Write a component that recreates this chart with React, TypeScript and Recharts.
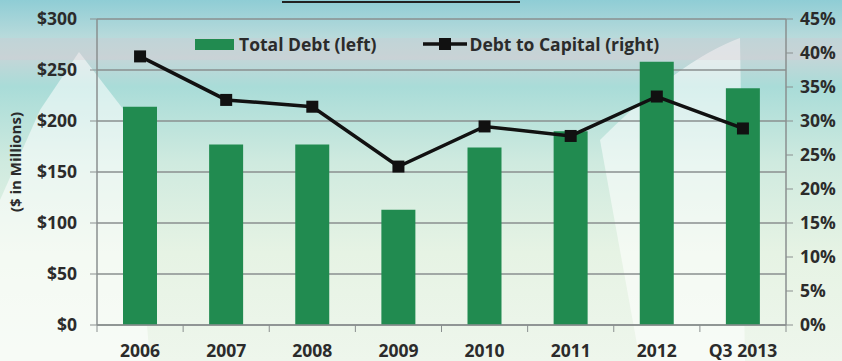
import React from 'react'
import { ComposedChart, Bar, Line, XAxis, YAxis, CartesianGrid } from 'recharts'

const categories = ['2006', '2007', '2008', '2009', '2010', '2011', '2012', 'Q3 2013']
const totalDebt = [214, 177, 177, 113, 174, 190, 258, 232]
const debtToCapital = [39.5, 33.1, 32.1, 23.3, 29.2, 27.8, 33.6, 28.9]
const debtTicks = [0, 50, 100, 150, 200, 250, 300]
const pctTicks = [0, 5, 10, 15, 20, 25, 30, 35, 40, 45]

const data = categories.map((c, i) => ({ year: c, debt: totalDebt[i], ratio: debtToCapital[i] }))

const W = 842
const H = 361
const LEFT_W = 97
const RIGHT_W = 56
const BAND = (W - LEFT_W - RIGHT_W) / categories.length
const FONT = '"Open Sans", "Liberation Sans", sans-serif'
const FS = 17.5
const GREEN = '#218b50'
const GRID = '#8a8f8f'
const TEXT = '#2b2b2b'

function XTick(props: any) {
  const { x, y, payload, index } = props
  return (
    <g>
      <line x1={x - BAND / 2} x2={x - BAND / 2} y1={y} y2={y + 7} stroke={GRID} />
      {index === categories.length - 1 && (
        <line x1={x + BAND / 2} x2={x + BAND / 2} y1={y} y2={y + 7} stroke={GRID} />
      )}
      <text x={x} y={y + 32} textAnchor="middle" fontSize={FS} fontWeight={700} fill={TEXT} fontFamily={FONT}>
        {payload.value}
      </text>
    </g>
  )
}

function SquareDot(props: any) {
  const { cx, cy } = props
  if (cx == null || cy == null) return null
  return <rect x={cx - 6} y={cy - 6} width={12} height={12} fill="#111" />
}

export default function App() {
  return (
    <div style={{ position: 'absolute', left: 0, top: 0, width: W, height: H, overflow: 'hidden',
      background: 'linear-gradient(180deg, #8fcdd5 0%, #b7dadb 10%, #c4d6d8 16%, #a9dcd8 24%, #cfeadf 45%, #e6f3e4 70%, #eef6ec 100%)',
      fontFamily: FONT }}>
      {/* background decoration */}
      <svg width={W} height={H} style={{ position: 'absolute', left: 0, top: 0 }}>
        <polygon points="79,52 130,118 150,361 0,361 0,200 40,110" fill="#ffffff" opacity={0.55} />
        <path d="M600,140 Q680,60 740,38 L745,361 L640,361 Z" fill="#ffffff" opacity={0.55} />
        <rect x={0} y={38} width={W} height={22} fill="#d9c9cf" opacity={0.25} />
      </svg>
      <div style={{ position: 'absolute', left: 282, top: 1, width: 238, borderTop: '2px solid #222' }} />
      <div style={{ position: 'absolute', left: 0, top: 0 }}>
        <ComposedChart width={W} height={H} data={data} margin={{ top: 19, right: 0, left: 0, bottom: 0 }}>
          <CartesianGrid vertical={false} stroke={GRID} strokeWidth={1.5} yAxisId="left" />
          <XAxis
            dataKey="year"
            height={H - 19 - 306}
            tickSize={0}
            tickMargin={0}
            tick={<XTick />}
            axisLine={{ stroke: GRID, strokeWidth: 1.5 }}
            interval={0}
          />
          <YAxis
            yAxisId="left"
            width={LEFT_W}
            domain={[0, 300]}
            ticks={debtTicks}
            tickFormatter={(v: number) => `$${v}`}
            tickSize={7}
            tickMargin={13}
            tickLine={{ stroke: GRID }}
            axisLine={{ stroke: GRID, strokeWidth: 1.5 }}
            tick={{ fontSize: FS, fontWeight: 700, fill: TEXT, fontFamily: FONT }}
            label={{ value: '($ in Millions)', angle: -90, position: 'insideLeft', offset: 16, dy: -10,
              style: { fontSize: 15, fontWeight: 700, fill: TEXT, fontFamily: FONT, textAnchor: 'middle' } }}
          />
          <YAxis
            yAxisId="right"
            orientation="right"
            width={RIGHT_W}
            domain={[0, 45]}
            ticks={pctTicks}
            tickFormatter={(v: number) => `${v}%`}
            tickSize={7}
            tickMargin={7}
            tickLine={{ stroke: GRID }}
            axisLine={{ stroke: GRID, strokeWidth: 1.5 }}
            tick={{ fontSize: FS, fontWeight: 700, fill: TEXT, fontFamily: FONT }}
          />
          <Bar yAxisId="left" dataKey="debt" fill={GREEN} barSize={34} isAnimationActive={false} />
          <Line yAxisId="right" dataKey="ratio" stroke="#111" strokeWidth={3.5} dot={<SquareDot />}
            activeDot={false} isAnimationActive={false} />
        </ComposedChart>
      </div>
      {/* legend */}
      <div style={{ position: 'absolute', left: 195, top: 32, display: 'flex', alignItems: 'center',
        fontSize: FS, fontWeight: 700, color: TEXT }}>
        <span style={{ display: 'inline-block', width: 39, height: 11, background: GREEN, marginRight: 5 }} />
        <span>Total Debt (left)</span>
        <svg width={44} height={14} style={{ marginLeft: 47, marginRight: 2 }}>
          <line x1={0} x2={44} y1={7} y2={7} stroke="#111" strokeWidth={3.5} />
          <rect x={16} y={1} width={12} height={12} fill="#111" />
        </svg>
        <span>Debt to Capital (right)</span>
      </div>
    </div>
  )
}
